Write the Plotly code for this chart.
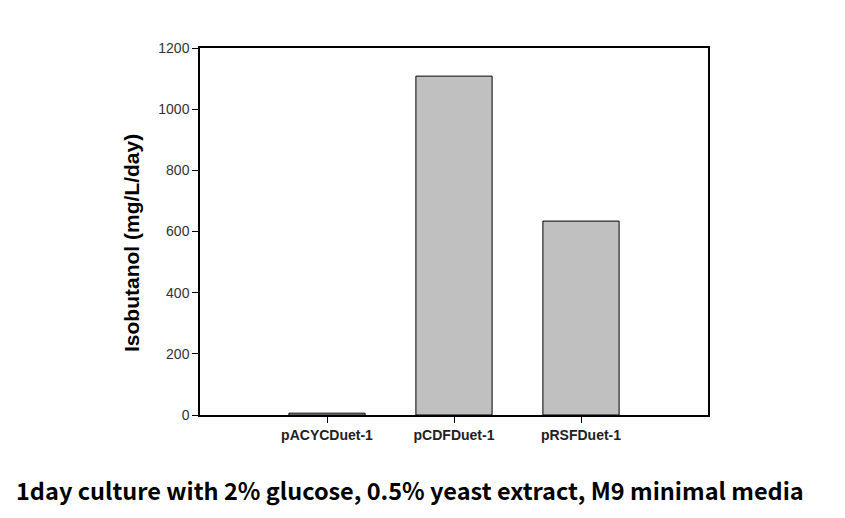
import plotly.graph_objects as go

categories = ["pACYCDuet-1", "pCDFDuet-1", "pRSFDuet-1"]
isobutanol = [6, 1108, 634]
y_ticks = [0, 200, 400, 600, 800, 1000, 1200]

# page body has an 8px margin, so the figure is sized/offset to compensate
OFF = 8
W, H = 845 - OFF, 518 - OFF
L, R, T, B = 200 - OFF, 137, 48 - OFF, 103
pw, ph = W - L - R, H - T - B

def px_x(x_abs):
    return (x_abs - OFF - L) / pw

def px_y(y_abs):
    return (T + ph - (y_abs - OFF)) / ph

fig = go.Figure()
fig.add_trace(go.Bar(
    x=[1, 2, 3], y=isobutanol, width=0.6,
    marker=dict(color="#c0c0c0", line=dict(color="black", width=1)),
))

fig.update_layout(
    width=W, height=H,
    margin=dict(l=L, r=R, t=T, b=B),
    plot_bgcolor="white", paper_bgcolor="white",
    showlegend=False,
    font=dict(family="Arial, Liberation Sans, sans-serif", color="#222"),
)
fig.update_xaxes(
    range=[0, 4], tickvals=[1, 2, 3], ticktext=categories,
    showline=True, linecolor="black", linewidth=1.5, mirror=True,
    ticks="outside", ticklen=6, tickcolor="black", tickwidth=1,
    showgrid=False, zeroline=False,
    tickfont=dict(size=14, color="#222", family="Arial, Liberation Sans, sans-serif", weight="bold"),
)
fig.update_yaxes(
    range=[0, 1200], tickvals=y_ticks,
    showline=True, linecolor="black", linewidth=1.5, mirror=True,
    ticks="outside", ticklen=6, tickcolor="black", tickwidth=1,
    showgrid=False, zeroline=False,
    tickfont=dict(size=14, color="#333"),
)
fig.add_annotation(
    text="<b>Isobutanol (mg/L/day)</b>", textangle=-90,
    xref="paper", yref="paper", x=px_x(131), y=px_y(243),
    xanchor="center", yanchor="middle",
    showarrow=False, font=dict(size=21, color="black", family="Arial, Liberation Sans, sans-serif"),
)
fig.add_annotation(
    text="<b>1day culture with 2% glucose, 0.5% yeast extract, M9 minimal media</b>",
    xref="paper", yref="paper", x=px_x(14), xanchor="left",
    y=px_y(490), yanchor="middle",
    showarrow=False, font=dict(size=23.5, color="black", family="Noto Sans CJK KR, Noto Sans, sans-serif"),
)
fig.write_html("out.html")
